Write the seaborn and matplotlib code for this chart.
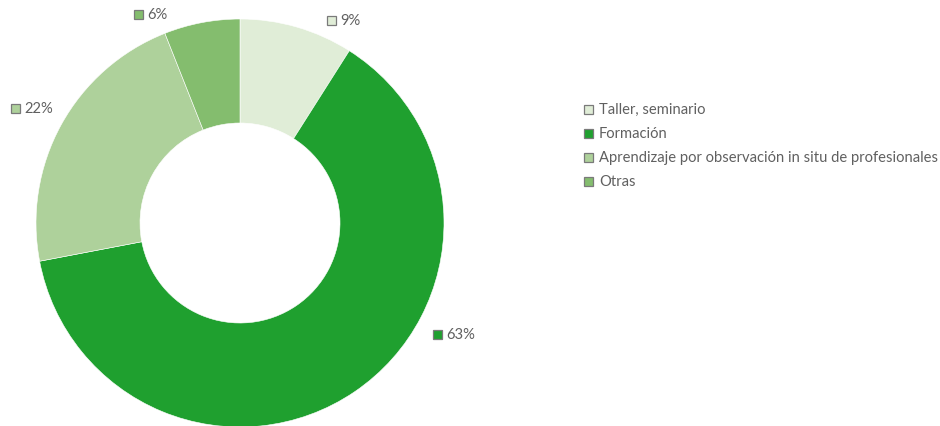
import matplotlib
matplotlib.use("Agg")
import matplotlib.pyplot as plt
import seaborn as sns

# Share of each learning modality (%)
categories = ["Taller, seminario", "Formación",
              "Aprendizaje por observación in situ de profesionales", "Otras"]
values = [9, 63, 22, 6]
colors = ["#e0edd7", "#1fa02f", "#aed19b", "#84bd6e"]
# Data-label anchor points (pixel coords, y measured from top)
label_pos = [(331, 21), (437, 335), (15, 109), (138, 15)]

sns.set_theme(style="white")
plt.rcParams["font.family"] = ["Lato", "DejaVu Sans"]

W, H = 940, 427
fig = plt.figure(figsize=(W / 100, H / 100), dpi=100)
ax = fig.add_axes([0, 0, 1, 1])

cx, cy, r_out, r_in = 240, H - 224, 204, 100
ax.pie(values, colors=colors, startangle=90, counterclock=False,
       center=(cx, cy), radius=r_out,
       wedgeprops=dict(width=r_out - r_in, edgecolor="white", linewidth=0.4))

ax.set_xlim(0, W)
ax.set_ylim(0, H)
ax.set_aspect("equal")
ax.axis("off")

text_color = "#606060"
sq = 9
fs = 10.6


def square(x, y, color):
    ax.add_patch(plt.Rectangle((x - sq / 2, y - sq / 2), sq, sq,
                               facecolor=color, edgecolor="#7a7a7a",
                               linewidth=0.9, zorder=5))


# data labels
for v, c, (lx, ly) in zip(values, colors, label_pos):
    y = H - ly
    square(lx, y, c)
    ax.text(lx + 9, y, f"{v}%", color=text_color, fontsize=fs,
            va="center", ha="left")

# legend
lx0, ly0, step = 588, 110, 24
for i, (name, c) in enumerate(zip(categories, colors)):
    y = H - (ly0 + i * step)
    square(lx0, y, c)
    ax.text(lx0 + 11, y, name, color=text_color, fontsize=fs,
            va="center", ha="left")

fig.savefig("out.png", dpi=100)
